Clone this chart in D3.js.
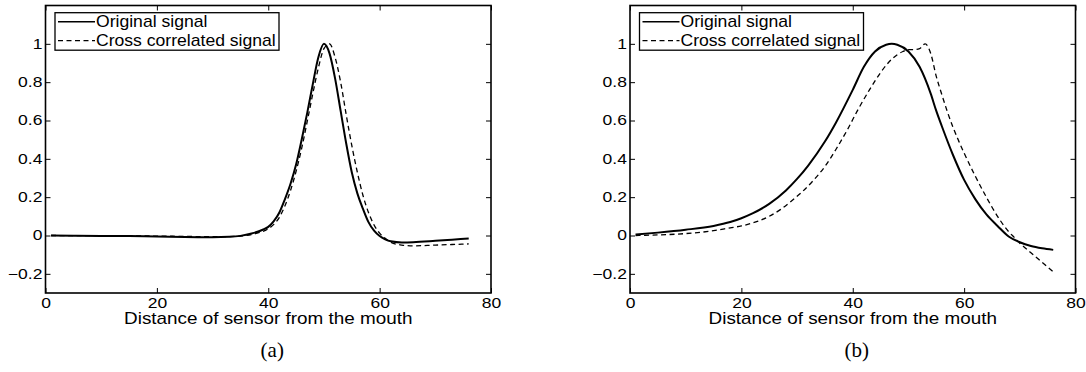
<!DOCTYPE html>
<meta charset="utf-8">
<head>
    <title>Original vs cross correlated signal</title>
    <script type="text/javascript" src="https://cdn.jsdelivr.net/npm/d3@7"></script>
    <style>
        body { margin: 0; background: white; }
        text { font-family: "Liberation Sans", Arial, sans-serif; fill: black; }
        .caption { font-family: "Liberation Serif", "Times New Roman", serif; }
    </style>
</head>
<body>
    <div id="chart"></div>
    <script>
        // data
        var xTicks = [0, 20, 40, 60, 80];
        var yTicks = [-0.2, 0, 0.2, 0.4, 0.6, 0.8, 1];
        var legendLabels = ["Original signal", "Cross correlated signal"];
        var captions = ["(a)", "(b)"];

        // panel (a)
        var origA_x = [1, 5, 10, 15, 20, 25, 30, 33, 35, 37, 39, 40, 41, 42, 43, 44, 45, 46, 47, 48, 49, 50,
                       51, 52, 53, 54, 55, 56, 57, 58, 59, 60, 61, 62, 64, 66, 70, 73, 76];
        var origA_y = [0, -0.001, -0.002, -0.003, -0.005, -0.008, -0.009, -0.007, -0.002, 0.01, 0.03, 0.045, 0.075, 0.12, 0.19, 0.27, 0.37, 0.5, 0.64, 0.79, 0.93, 1.0,
                       0.95, 0.82, 0.65, 0.48, 0.33, 0.22, 0.14, 0.07, 0.025, -0.003, -0.02, -0.03, -0.036, -0.035, -0.028, -0.022, -0.016];
        var crossA_x = [1, 10, 20, 30, 34, 36, 38, 40, 41, 42, 43, 44, 45, 46, 47, 48, 49, 50, 51,
                        52, 53, 54, 55, 56, 57, 58, 59, 60, 61, 62, 64, 66, 70, 73, 76];
        var crossA_y = [0, -0.001, -0.003, -0.006, -0.005, 0, 0.012, 0.035, 0.058, 0.095, 0.155, 0.235, 0.335, 0.455, 0.595, 0.74, 0.875, 0.975, 1.0,
                        0.93, 0.8, 0.63, 0.47, 0.33, 0.21, 0.12, 0.055, 0.012, -0.015, -0.035, -0.05, -0.054, -0.05, -0.047, -0.044];

        // panel (b)
        var origB_x = [1, 5, 10, 15, 18, 20, 22, 25, 28, 30, 32, 35, 37, 40, 42, 44, 46, 47, 48, 50,
                       52, 54, 55, 56, 58, 60, 62, 64, 66, 68, 70, 72, 74, 76];
        var origB_y = [0.005, 0.015, 0.03, 0.05, 0.07, 0.09, 0.115, 0.165, 0.235, 0.295, 0.365, 0.49, 0.59, 0.76, 0.88, 0.96, 0.995, 1.0, 0.995, 0.96,
                       0.88, 0.74, 0.65, 0.57, 0.42, 0.29, 0.19, 0.11, 0.05, -0.005, -0.035, -0.055, -0.067, -0.075];
        var crossB_x = [1, 5, 10, 15, 18, 20, 23, 25, 27, 29, 31, 33, 35, 37, 39, 41, 43, 45, 47, 49, 50, 51, 52, 53,
                        54, 55, 56, 57, 58, 59, 60, 62, 64, 66, 68, 69, 70, 72, 74, 76];
        var crossB_y = [0, 0.003, 0.01, 0.025, 0.04, 0.05, 0.075, 0.1, 0.135, 0.18, 0.23, 0.29, 0.36, 0.45, 0.55, 0.66, 0.76, 0.85, 0.92, 0.96, 0.97, 0.97, 0.975, 1.0,
                        0.95, 0.83, 0.735, 0.645, 0.565, 0.495, 0.43, 0.31, 0.2, 0.1, 0.02, -0.01, -0.04, -0.09, -0.14, -0.19];

        var w = 1086;
        var h = 372;
        var svg = d3.select("#chart").append("svg")
            .attr("width", w)
            .attr("height", h);

        var panels = [
            {left: 45.5, orig: [origA_x, origA_y], cross: [crossA_x, crossA_y], caption: captions[0]},
            {left: 630, orig: [origB_x, origB_y], cross: [crossB_x, crossB_y], caption: captions[1]}
        ];
        var pw = 445.5, yTop = 5.5, yBottom = 293;

        function toPoints(xs, ys) {
            return xs.map(function (d, i) { return [d, ys[i]]; });
        }

        // the source picture is a bit wider than tall, so text is stretched sideways
        function stretchText(sel, x, y, sx) {
            sel.attr("transform", "translate(" + x + "," + y + ") scale(" + sx + ",1)");
        }

        panels.forEach(function (p) {
            var x = d3.scaleLinear().domain([0, 80]).range([p.left, p.left + pw]);
            var y = d3.scaleLinear().domain([-0.3, 1.2]).range([yBottom, yTop]);
            var g = svg.append("g");

            var line = d3.line()
                .x(function (d) { return x(d[0]); })
                .y(function (d) { return y(d[1]); })
                .curve(d3.curveMonotoneX);

            // inside ticks on all four sides, like matlab's box
            var tk = 5;
            var bx = g.append("g").attr("transform", "translate(0," + yBottom + ")")
                .call(d3.axisBottom(x).tickValues(xTicks).tickSize(-tk).tickPadding(5).tickFormat(d3.format("d")));
            g.append("g").attr("transform", "translate(0," + yTop + ")")
                .call(d3.axisTop(x).tickValues(xTicks).tickSize(-tk).tickFormat(""));
            var ly_ = g.append("g").attr("transform", "translate(" + p.left + ",0)")
                .call(d3.axisLeft(y).tickValues(yTicks).tickSize(-tk).tickPadding(3)
                    .tickFormat(function (d) { return d == 0 ? "0" : d3.format(".1f")(d).replace("-", "\u2212").replace(/\.0$/, ""); }));
            g.append("g").attr("transform", "translate(" + (p.left + pw) + ",0)")
                .call(d3.axisRight(y).tickValues(yTicks).tickSize(-tk).tickFormat(""));
            g.selectAll(".domain").remove();
            g.selectAll(".tick line").attr("stroke", "black").attr("stroke-width", 1);
            g.selectAll(".tick text").style("font-size", "14px").attr("fill", "black");
            bx.selectAll(".tick text").attr("transform", "scale(1.25,1)");
            ly_.selectAll(".tick text").attr("x", -2.5).attr("transform", "scale(1.25,1)");

            g.append("rect")
                .attr("x", p.left).attr("y", yTop)
                .attr("width", pw).attr("height", yBottom - yTop)
                .attr("fill", "none").attr("stroke", "black").attr("stroke-width", 1.6);

            g.append("path").datum(toPoints(p.orig[0], p.orig[1]))
                .attr("d", line).attr("fill", "none").attr("stroke", "black").attr("stroke-width", 2);
            g.append("path").datum(toPoints(p.cross[0], p.cross[1]))
                .attr("d", line).attr("fill", "none").attr("stroke", "black").attr("stroke-width", 1.3)
                .attr("stroke-dasharray", "5,3.5");

            // legend
            var lx = p.left + 9.5, ly = 12.7;
            var lg = g.append("g");
            lg.append("rect").attr("x", lx).attr("y", ly).attr("width", 224).attr("height", 37.5)
                .attr("fill", "white").attr("stroke", "black").attr("stroke-width", 1.3);
            legendLabels.forEach(function (lab, i) {
                var yy = ly + 9 + i * 19;
                lg.append("line").attr("x1", lx + 3).attr("x2", lx + 40).attr("y1", yy).attr("y2", yy)
                    .attr("stroke", "black").attr("stroke-width", i == 0 ? 1.6 : 1.3)
                    .attr("stroke-dasharray", i == 0 ? null : "5,3.5");
                lg.append("text").attr("dy", "0.35em")
                    .style("font-size", "16px").text(lab)
                    .call(stretchText, lx + 41, yy, 1.1);
            });

            g.append("text")
                .attr("text-anchor", "middle").style("font-size", "16px")
                .text("Distance of sensor from the mouth")
                .call(stretchText, p.left + pw / 2, 324, 1.18);

            g.append("text").attr("class", "caption")
                .attr("text-anchor", "middle").style("font-size", "21px")
                .text(p.caption)
                .call(stretchText, p.left + pw / 2 + 4, 357, 1);
        });
    </script>
</body>
</html>
